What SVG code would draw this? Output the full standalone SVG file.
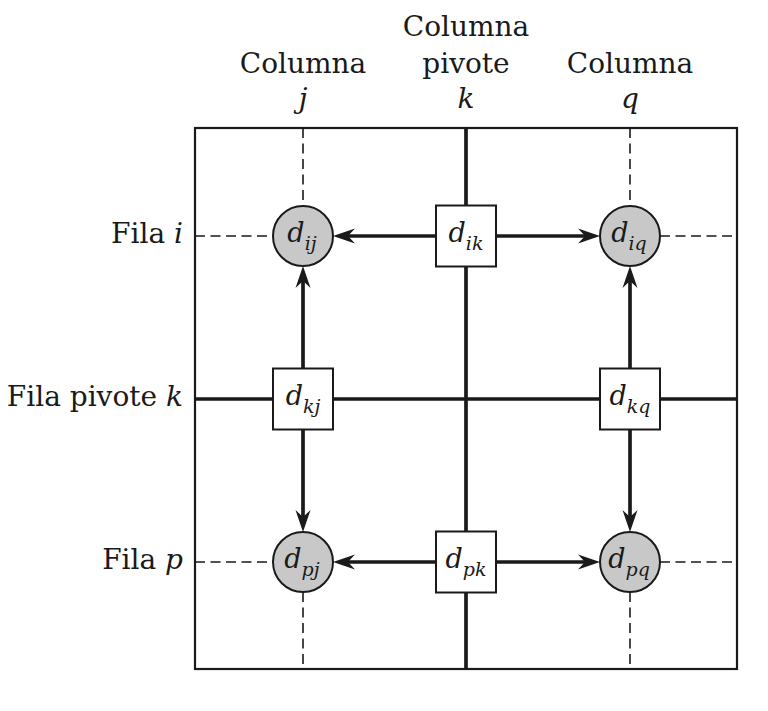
<svg xmlns="http://www.w3.org/2000/svg" width="768" height="711" viewBox="0 0 768 711">
<style>
.lbl{font-family:"DejaVu Serif","Liberation Serif",serif;font-size:28px;fill:#1a1a1a}
.it{font-style:italic}
.nd{font-family:"DejaVu Serif","Liberation Serif",serif;font-style:italic;font-size:27px;fill:#1a1a1a}
.sub{font-size:19px}
.frame{fill:none;stroke:#1a1a1a;stroke-width:2.2}
.dash{stroke:#1a1a1a;stroke-width:1.6;stroke-dasharray:10 5.5;fill:none}
.thick{stroke:#1a1a1a;stroke-width:3.7;fill:none}
.circ{fill:#c8c8c8;stroke:#1a1a1a;stroke-width:2}
.box{fill:#fff;stroke:#1a1a1a;stroke-width:2}
.arr{stroke:#1a1a1a;stroke-width:3.7;fill:none;marker-end:url(#ah)}
</style>
<defs>
<marker id="ah" markerUnits="userSpaceOnUse" viewBox="-30 -10 40 20" markerWidth="40" markerHeight="20" refX="-8" refY="0" orient="auto">
<path d="M0,0 L-22,-7.5 L-15,0 L-22,7.5 Z" fill="#1a1a1a"/>
</marker>
</defs>
<rect width="768" height="711" fill="#fff"/>
<g id="labels">
<text class="lbl" x="466" y="36" text-anchor="middle">Columna</text>
<text class="lbl" x="303" y="73" text-anchor="middle">Columna</text>
<text class="lbl" x="466" y="73" text-anchor="middle">pivote</text>
<text class="lbl" x="630" y="73" text-anchor="middle">Columna</text>
<text class="lbl it" x="303" y="108" text-anchor="middle">j</text>
<text class="lbl it" x="466" y="108" text-anchor="middle">k</text>
<text class="lbl it" x="630" y="108" text-anchor="middle">q</text>
<text class="lbl" x="183" y="243" text-anchor="end">Fila <tspan class="it">i</tspan></text>
<text class="lbl" x="183" y="406" text-anchor="end">Fila pivote <tspan class="it">k</tspan></text>
<text class="lbl" x="183" y="569" text-anchor="end">Fila <tspan class="it">p</tspan></text>
</g>
<g id="grid">
<rect class="frame" x="195" y="128" width="542" height="541"/>
<path class="dash" d="M195,236H273M660,236H737M195,562H273M660,562H737M303,128V206M303,592V669M630,128V206M630,592V669"/>
<path class="thick" d="M466,128V669M195,399H737"/>
</g>
<g id="connectors">
<path class="arr" d="M436,236H341"/>
<path class="arr" d="M496,236H592"/>
<path class="arr" d="M303,368.5V274"/>
<path class="arr" d="M303,429.5V524"/>
<path class="arr" d="M630,368.5V274"/>
<path class="arr" d="M630,429.5V524"/>
<path class="arr" d="M436,562H341"/>
<path class="arr" d="M496,562H592"/>
</g>
<g id="d_ij"><circle class="circ" cx="303" cy="236" r="30"/><text class="nd" x="302" y="242" text-anchor="middle">d<tspan class="sub" dy="8">ij</tspan></text></g>
<g id="d_iq"><circle class="circ" cx="630" cy="236" r="30"/><text class="nd" x="629" y="242" text-anchor="middle">d<tspan class="sub" dy="8">iq</tspan></text></g>
<g id="d_pj"><circle class="circ" cx="303" cy="562" r="30"/><text class="nd" x="302" y="568" text-anchor="middle">d<tspan class="sub" dy="8">pj</tspan></text></g>
<g id="d_pq"><circle class="circ" cx="630" cy="562" r="30"/><text class="nd" x="629" y="568" text-anchor="middle">d<tspan class="sub" dy="8">pq</tspan></text></g>
<g id="d_ik"><rect class="box" x="436" y="205.5" width="60" height="61"/><text class="nd" x="466" y="242" text-anchor="middle">d<tspan class="sub" dy="8">ik</tspan></text></g>
<g id="d_kj"><rect class="box" x="273" y="368.5" width="60" height="61"/><text class="nd" x="303" y="405" text-anchor="middle">d<tspan class="sub" dy="8">kj</tspan></text></g>
<g id="d_kq"><rect class="box" x="600" y="368.5" width="60" height="61"/><text class="nd" x="630" y="405" text-anchor="middle">d<tspan class="sub" dy="8">kq</tspan></text></g>
<g id="d_pk"><rect class="box" x="436" y="531.5" width="60" height="61"/><text class="nd" x="466" y="568" text-anchor="middle">d<tspan class="sub" dy="8">pk</tspan></text></g>
</svg>
